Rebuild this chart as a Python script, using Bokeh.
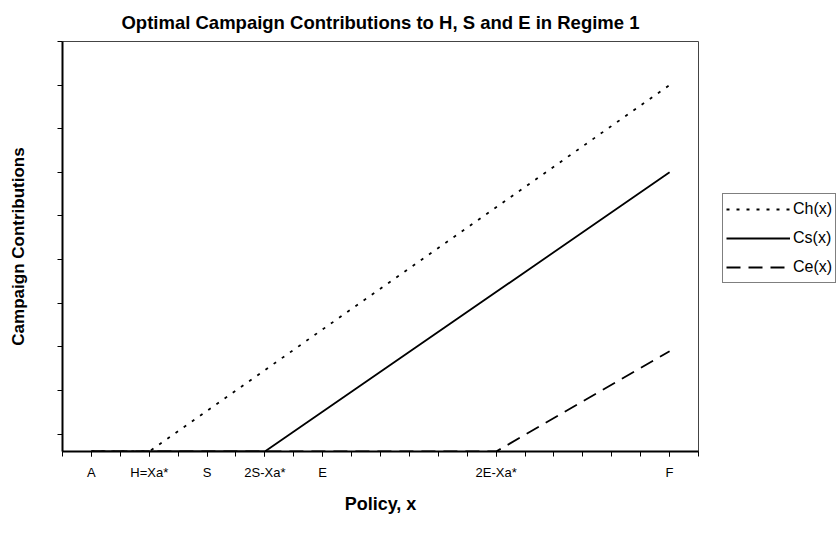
from bokeh.plotting import figure
from bokeh.models import FixedTicker, Legend, LegendItem, Range1d
from bokeh.layouts import row
from bokeh.embed import file_html
from bokeh.resources import INLINE

# ---- data ----
policy_ticks = list(range(0, 23))
policy_label_pos = [1, 3, 5, 7, 9, 15, 21]
policy_label_txt = ["A", "H=Xa*", "S", "2S-Xa*", "E", "2E-Xa*", "F"]

ch_x = [1, 3, 21]
ch_y = [0, 0, 8.4]
cs_x = [1, 7, 21]
cs_y = [0, 0, 6.4]
ce_x = [1, 15, 21]
ce_y = [0, 0, 2.3]

series_names = ["Ch(x)", "Cs(x)", "Ce(x)"]

y_ticks = [0.4 + k for k in range(10)]

FONT = "Liberation Sans"
STYLES = [dict(line_dash="3 7"), dict(line_dash="solid"), dict(line_dash="14 8")]

p = figure(frame_width=636, frame_height=410, output_backend="svg", toolbar_location=None,
           x_range=Range1d(0, 22), y_range=Range1d(0, 9.4),
           min_border_left=62, min_border_top=40, min_border_bottom=90,
           min_border_right=2)

p.title.text = "Optimal Campaign Contributions to H, S and E in Regime 1"
p.title.align = "center"
p.title.text_font = FONT
p.title.text_font_size = "18.5px"
p.title.text_font_style = "bold"
p.title.text_color = "black"
p.title.standoff = 18

p.xgrid.visible = False
p.ygrid.visible = False
p.outline_line_color = "#444444"
p.outline_line_width = 1

for xs, ys, st in zip([ch_x, cs_x, ce_x], [ch_y, cs_y, ce_y], STYLES):
    p.line(xs, ys, line_color="black", line_width=1.8, **st)

xa = p.xaxis[0]
xa.ticker = FixedTicker(ticks=policy_label_pos, minor_ticks=policy_ticks)
xa.major_label_overrides = dict(zip(policy_label_pos, policy_label_txt))
xa.major_label_text_font = FONT
xa.major_label_text_font_size = "13px"
xa.major_label_text_color = "black"
xa.major_label_standoff = 8
xa.major_tick_in = 0
xa.major_tick_out = 5
xa.minor_tick_in = 0
xa.minor_tick_out = 5
xa.minor_tick_line_color = "black"
xa.axis_line_width = 2
xa.axis_line_color = "black"
xa.major_tick_line_color = "black"
xa.axis_label = "Policy, x"
xa.axis_label_text_font = FONT
xa.axis_label_text_font_size = "18px"
xa.axis_label_text_font_style = "bold"
xa.axis_label_text_color = "black"
xa.axis_label_standoff = 11

ya = p.yaxis[0]
ya.ticker = FixedTicker(ticks=[], minor_ticks=y_ticks)
ya.major_tick_in = 0
ya.major_tick_out = 5
ya.minor_tick_in = 0
ya.minor_tick_out = 5
ya.minor_tick_line_color = "black"
ya.axis_line_width = 2
ya.axis_line_color = "black"
ya.axis_label = "Campaign Contributions"
ya.axis_label_text_font = FONT
ya.axis_label_text_font_size = "17px"
ya.axis_label_text_font_style = "bold"
ya.axis_label_text_color = "black"
ya.axis_label_standoff = 30

# ---- legend panel (separate small figure to the right) ----
lg = figure(width=136, height=540, output_backend="svg", toolbar_location=None,
            title=None, x_axis_location=None, y_axis_location=None,
            min_border_left=0, min_border_right=0, min_border_top=0, min_border_bottom=0,
            x_range=Range1d(0, 1), y_range=Range1d(100, 101))
lg.grid.visible = False
lg.outline_line_color = None
items = []
for name, xs, ys, st in zip(series_names, [ch_x, cs_x, ce_x], [ch_y, cs_y, ce_y], STYLES):
    r = lg.line(xs, ys, line_color="black", line_width=1.8, **st)
    items.append(LegendItem(label=name, renderers=[r]))

legend = Legend(items=items, location=(22, 167))
legend.margin = 0
legend.padding = 3
legend.spacing = 5
legend.glyph_width = 64
legend.glyph_height = 24
legend.label_height = 24
legend.label_standoff = 3
legend.label_text_font = FONT
legend.label_text_font_size = "16px"
legend.label_text_color = "black"
legend.border_line_color = "black"
legend.border_line_width = 1
legend.background_fill_alpha = 1
lg.add_layout(legend, "center")

layout = row(p, lg)
open("out.html", "w").write(file_html(layout, INLINE))
